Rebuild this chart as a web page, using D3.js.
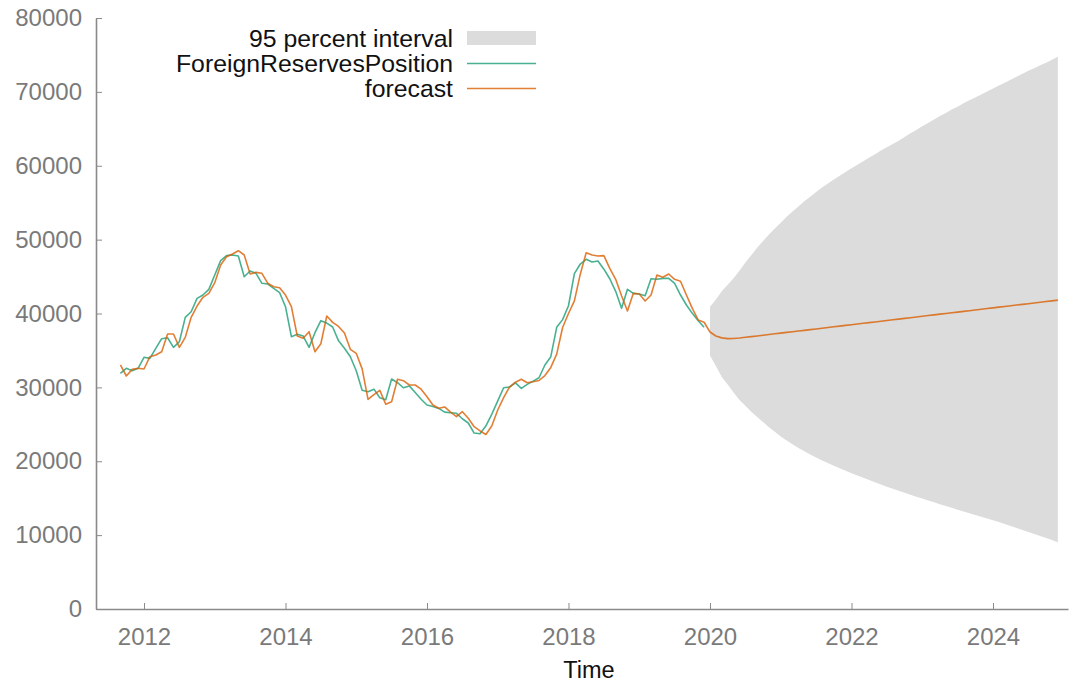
<!DOCTYPE html>
<html>
<head>
<meta charset="utf-8">
<script src="https://cdn.jsdelivr.net/npm/d3@7"></script>
<style>
  html, body { margin: 0; padding: 0; background: #fff; }
  svg { display: block; font-family: "Liberation Sans", Arial, Helvetica, sans-serif; }
</style>
</head>
<body>
<svg id="chart" width="1069" height="683"></svg>
<script>
// Monthly foreign reserves position, Sep 2011 – Dec 2019
const seriesStart = 2011 + 8 / 12;
const reserves = [
  31900, 32580, 32260, 32580, 34070, 33930, 35290, 36590, 36720, 35420,
  36180, 39480, 40240, 42050, 42500, 43270, 45210, 47150, 47830, 47920,
  47780, 44980, 45750, 45440, 44090, 43990, 43410, 42820, 40920, 36860,
  37180, 36950, 35420, 37400, 39030, 38700, 38170, 36300, 35290, 34150,
  32250, 29600, 29420, 29760, 28600, 28330, 31130, 30630, 29950, 30200,
  29300, 28400, 27610, 27400, 27150, 26650, 26570, 26490, 25750, 25180,
  23820, 23730, 24800, 26380, 28170, 29950, 30050, 30600, 29870, 30400,
  30850, 31300, 33030, 34150, 38130, 39170, 41050, 45400, 46700, 47330,
  46970, 47110, 46000, 44700, 43000, 40700, 43270, 42730, 42640, 42410,
  44710, 44630, 44760, 44760, 44090, 42500, 41150, 40020, 39030, 38130
];

// In-sample fitted values of the model, same months
const fitted = [
  33030, 31540, 32440, 32580, 32490, 34150, 34380, 34830, 37220, 37220,
  35420, 36770, 39480, 41010, 42190, 42730, 44170, 46560, 47690, 48050,
  48500, 47920, 45350, 45570, 45440, 44090, 43630, 43490, 42500, 40920,
  36950, 36640, 37540, 34830, 35900, 39660, 38800, 38250, 37350, 35150,
  34610, 32500, 28380, 29030, 29600, 27720, 28060, 31090, 30900, 30320,
  30320, 29760, 28740, 27610, 27170, 27350, 26640, 26050, 26710, 25810,
  24680, 24100, 23620, 24800, 26940, 28600, 30050, 30700, 31100, 30630,
  30770, 30930, 31600, 32700, 34500, 38100, 40000, 41700, 45320, 48230,
  47920, 47780, 47830, 46110, 44630, 42400, 40340, 42730, 42640, 41690,
  42500, 45210, 44900, 45350, 44630, 44370, 42500, 40700, 39120, 38820
];

// Point forecast, Jan 2020 – Dec 2024
const forecastStart = 2020;
const forecast = [
  37500, 36950, 36700, 36600, 36620, 36680, 36780, 36870, 36960, 37060,
  37150, 37250, 37340, 37440, 37530, 37630, 37720, 37820, 37910, 38010,
  38100, 38200, 38290, 38390, 38480, 38580, 38670, 38770, 38860, 38960,
  39050, 39150, 39240, 39340, 39430, 39530, 39620, 39720, 39810, 39910,
  40000, 40100, 40190, 40290, 40380, 40480, 40570, 40670, 40760, 40860,
  40950, 41050, 41140, 41240, 41330, 41430, 41520, 41620, 41710, 41810
];

// 95 percent prediction interval bounds
const upper95 = [
  40900, 41900, 43000, 43900, 44760, 45800, 46900, 47900, 48900, 49800,
  50700, 51500, 52300, 53100, 53800, 54500, 55200, 55800, 56450, 57050,
  57600, 58150, 58650, 59150, 59650, 60150, 60600, 61100, 61550, 62050,
  62500, 62950, 63400, 63900, 64400, 64850, 65350, 65800, 66250, 66740,
  67150, 67600, 68000, 68450, 68850, 69250, 69650, 70050, 70450, 70850,
  71250, 71650, 72050, 72450, 72850, 73200, 73600, 73950, 74350, 74760
];
const lower95 = [
  34300, 32900, 31400, 30400, 29300, 28300, 27500, 26700, 26000, 25300,
  24600, 24000, 23350, 22800, 22300, 21800, 21350, 20900, 20500, 20100,
  19750, 19400, 19050, 18700, 18380, 18060, 17750, 17450, 17150, 16850,
  16550, 16270, 16000, 15730, 15460, 15200, 14950, 14700, 14450, 14180,
  13930, 13690, 13450, 13210, 12970, 12730, 12490, 12250, 12010, 11770,
  11500, 11230, 10960, 10690, 10420, 10150, 9880, 9610, 9340, 9000
];

const yTicks = [0, 10000, 20000, 30000, 40000, 50000, 60000, 70000, 80000];
const xTicks = [2012, 2014, 2016, 2018, 2020, 2022, 2024];
const legendLabels = ["95 percent interval", "ForeignReservesPosition", "forecast"];

const colors = { band: "#dcdcdc", actual: "#1b9e77", forecast: "#d95f02", axis: "#8a8a8a", tickText: "#7a7a7a" };

const svg = d3.select("#chart");

const x = d3.scaleLinear().domain([2011.3216, 2025.0601]).range([96, 1068]);
const y = d3.scaleLinear().domain([0, 80000]).range([609, 18]);

const month = (start, i) => start + i / 12;

// prediction band
const bandData = forecast.map((f, i) => ({ t: month(forecastStart, i), lo: lower95[i], hi: upper95[i] }));
svg.append("path")
  .datum(bandData)
  .attr("fill", colors.band)
  .attr("d", d3.area().x(d => x(d.t)).y0(d => y(d.lo)).y1(d => y(d.hi)));

// observed series
const actualData = reserves.map((v, i) => ({ t: month(seriesStart, i), v }));
const line = d3.line().x(d => x(d.t)).y(d => y(d.v));
svg.append("path")
  .datum(actualData)
  .attr("fill", "none")
  .attr("stroke", colors.actual)
  .attr("stroke-opacity", 0.8)
  .attr("stroke-width", 1.6)
  .attr("stroke-linejoin", "round")
  .attr("d", line);

// fitted values followed by the forecast
const fcData = fitted.map((v, i) => ({ t: month(seriesStart, i), v }))
  .concat(forecast.map((v, i) => ({ t: month(forecastStart, i), v })));
svg.append("path")
  .datum(fcData)
  .attr("fill", "none")
  .attr("stroke", colors.forecast)
  .attr("stroke-opacity", 0.8)
  .attr("stroke-width", 1.6)
  .attr("stroke-linejoin", "round")
  .attr("d", line);

// axes
const yAxis = svg.append("g")
  .attr("transform", `translate(${x.range()[0]},0)`)
  .call(d3.axisLeft(y).tickValues(yTicks).tickFormat(d3.format("d"))
    .tickSizeInner(-6).tickSizeOuter(0).tickPadding(14));
const xAxis = svg.append("g")
  .attr("transform", `translate(0,${y.range()[0]})`)
  .call(d3.axisBottom(x).tickValues(xTicks).tickFormat(d3.format("d"))
    .tickSizeInner(-6).tickSizeOuter(0).tickPadding(19));

[yAxis, xAxis].forEach(g => {
  g.select(".domain").attr("stroke", colors.axis).attr("stroke-width", 1.6);
  g.selectAll(".tick line").attr("stroke", colors.axis).attr("stroke-width", 1);
  g.selectAll(".tick text").attr("fill", colors.tickText).attr("font-size", 24)
    .attr("font-family", "'Liberation Sans', Arial, sans-serif");
});

svg.append("text")
  .attr("x", (x.range()[0] + x.range()[1]) / 2 + 7)
  .attr("y", 678)
  .attr("text-anchor", "middle")
  .attr("font-size", 23.5)
  .attr("fill", "#111")
  .text("Time");

// legend
const legend = svg.append("g");
const rowY = [38, 63.5, 88.5];
legendLabels.forEach((label, i) => {
  legend.append("text")
    .attr("x", 453).attr("y", rowY[i])
    .attr("dy", "0.35em")
    .attr("text-anchor", "end")
    .attr("font-size", 24.8)
    .attr("fill", "#111")
    .text(label);
});
legend.append("rect").attr("x", 467).attr("y", rowY[0] - 7).attr("width", 69).attr("height", 14).attr("fill", colors.band);
legend.append("line").attr("x1", 467).attr("x2", 536).attr("y1", rowY[1]).attr("y2", rowY[1])
  .attr("stroke", colors.actual).attr("stroke-opacity", 0.8).attr("stroke-width", 1.6);
legend.append("line").attr("x1", 467).attr("x2", 536).attr("y1", rowY[2]).attr("y2", rowY[2])
  .attr("stroke", colors.forecast).attr("stroke-opacity", 0.8).attr("stroke-width", 1.6);
</script>
</body>
</html>
